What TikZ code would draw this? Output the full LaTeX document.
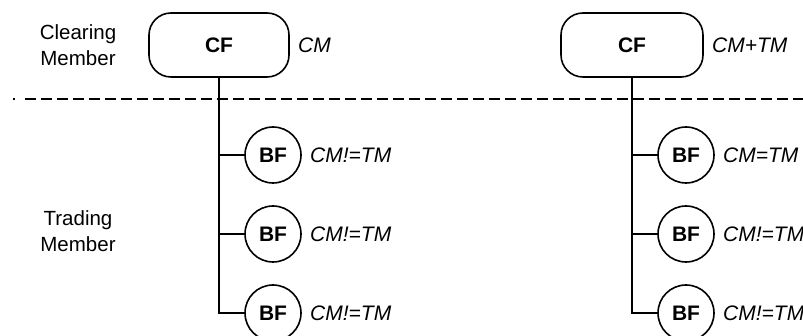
\documentclass[tikz,border=0pt]{standalone}
\usepackage{fontspec}
\setmainfont{Liberation Sans}
\begin{document}
\begin{tikzpicture}[x=1pt,y=-1pt,
  every node/.style={font=\fontsize{21}{25}\selectfont},
  cfbox/.style={draw,line width=1.6pt,rounded corners=22pt,minimum width=140pt,minimum height=64pt,font=\fontsize{21}{25}\selectfont\bfseries},
  bfcirc/.style={draw,circle,line width=1.6pt,minimum size=56pt,inner sep=0pt,font=\fontsize{21}{25}\selectfont\bfseries},
  lbl/.style={anchor=west,inner sep=0pt,font=\fontsize{21}{25}\selectfont\itshape},
  side/.style={align=center,inner sep=0pt,font=\fontsize{20.5}{26}\selectfont},
  conn/.style={line width=1.2pt}]
\clip (0,0) rectangle (803,336);
\fill[white] (0,0) rectangle (803,336);
% side labels
\node[side] (clm) at (78,45) {Clearing\\Member};
\node[side] (trm) at (78,231) {Trading\\Member};
% dashed separator
\coordinate (dl) at (13,99);
\coordinate (dr) at (803,99);
\draw[line width=1.2pt,dash pattern=on 1.5pt off 10.5pt on 11pt off 5pt on 11pt off 5pt on 11pt off 5pt on 11pt off 5pt on 11pt off 5pt on 11pt off 5pt on 11pt off 5pt on 11pt off 5pt on 11pt off 5pt on 11pt off 5pt on 11pt off 5pt on 11pt off 5pt on 11pt off 5pt on 11pt off 5pt on 11pt off 5pt on 11pt off 5pt on 11pt off 5pt on 11pt off 5pt on 11pt off 5pt on 11pt off 5pt on 11pt off 5pt on 11pt off 5pt on 11pt off 5pt on 11pt off 5pt on 11pt off 5pt on 11pt off 5pt on 11pt off 5pt on 11pt off 5pt on 11pt off 5pt on 11pt off 5pt on 11pt off 5pt on 11pt off 5pt on 11pt off 5pt on 11pt off 5pt on 11pt off 5pt on 11pt off 5pt on 11pt off 5pt on 11pt off 5pt on 11pt off 5pt on 11pt off 5pt on 11pt off 5pt on 11pt off 5pt on 11pt off 5pt on 11pt off 5pt on 11pt off 5pt on 11pt off 5pt on 11pt off 5pt on 11pt off 5pt on 11pt off 5pt on 11pt off 5pt on 11pt off 5pt on 11pt off 5pt on 11pt off 5pt] (dl) -- (dr);
% left tree
\node[cfbox] (cf1) at (219,45) {CF};
\node[lbl] (cm1) at (298,45) {CM};
\node[bfcirc] (bf11) at (273,155) {BF};
\node[bfcirc] (bf12) at (273,234) {BF};
\node[bfcirc] (bf13) at (273,313) {BF};
\node[lbl] (l11) at (310,155) {CM!=TM};
\node[lbl] (l12) at (310,234) {CM!=TM};
\node[lbl] (l13) at (310,313) {CM!=TM};
\draw[conn] (cf1.south) -- (cf1.south |- bf13.west) -- (bf13.west);
\draw[conn] (cf1.south |- bf11.west) -- (bf11.west);
\draw[conn] (cf1.south |- bf12.west) -- (bf12.west);
% right tree
\node[cfbox,minimum width=142pt] (cf2) at (632,45) {CF};
\node[lbl] (cm2) at (712,45) {CM+TM};
\node[bfcirc] (bf21) at (686,155) {BF};
\node[bfcirc] (bf22) at (686,234) {BF};
\node[bfcirc] (bf23) at (686,313) {BF};
\node[lbl] (l21) at (723,155) {CM=TM};
\node[lbl] (l22) at (723,234) {CM!=TM};
\node[lbl] (l23) at (723,313) {CM!=TM};
\draw[conn] (cf2.south) -- (cf2.south |- bf23.west) -- (bf23.west);
\draw[conn] (cf2.south |- bf21.west) -- (bf21.west);
\draw[conn] (cf2.south |- bf22.west) -- (bf22.west);
\end{tikzpicture}
\end{document}
